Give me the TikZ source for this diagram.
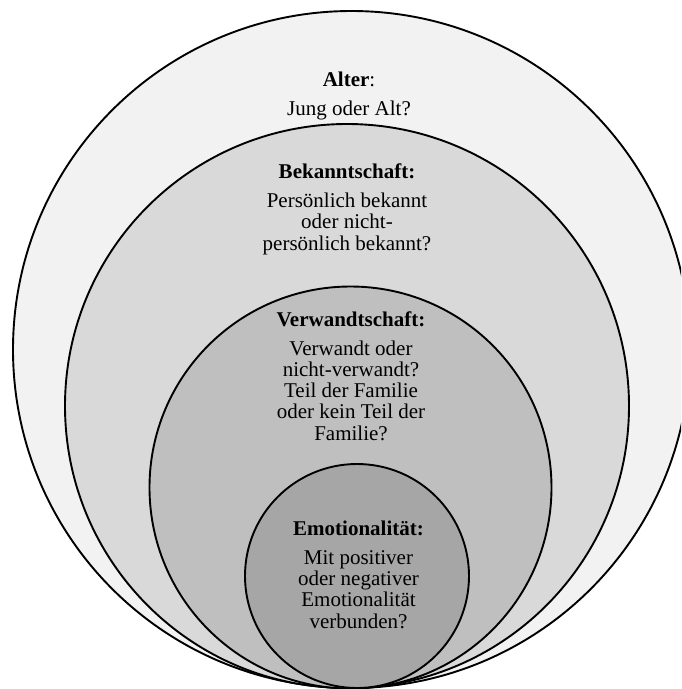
\documentclass[tikz,border=0pt]{standalone}
\usepackage{fontspec}
\setmainfont{Liberation Serif}
\begin{document}
\begin{tikzpicture}[x=1pt,y=-1pt,
  ring/.style={draw=black,line width=1.9pt},
  label/.style={align=center,inner sep=0pt,anchor=base,
    font=\fontsize{21}{21.2}\selectfont}]
\useasboundingbox (0,0) rectangle (681,689);
\clip (0,0) rectangle (681,689);
% nested rings, all meeting near the bottom
\fill[white] (0,0) rectangle (681,689);
\draw[ring,fill={rgb,255:red,242;green,242;blue,242}] (351.5,349.5) circle[radius=338.5pt];
\draw[ring,fill={rgb,255:red,217;green,217;blue,217}] (347,406) circle[radius=282pt];
\draw[ring,fill={rgb,255:red,191;green,191;blue,191}] (350.5,487.5) circle[radius=201pt];
\draw[ring,fill={rgb,255:red,166;green,166;blue,166}] (357,576) circle[radius=112pt];
% labels, placed at the baseline of their last line
\node[label] (alter) at (349,115) {\textbf{Alter}:\\[7pt]Jung oder Alt?};
\node[label] (bekannt) at (347,250) {\textbf{Bekanntschaft:}\\[8pt]Persönlich bekannt\\oder nicht-\\persönlich bekannt?};
\node[label] (verwandt) at (351,440) {\textbf{Verwandtschaft:}\\[8pt]Verwandt oder\\nicht-verwandt?\\Teil der Familie\\oder kein Teil der\\Familie?};
\node[label] (emo) at (358.5,628) {\textbf{Emotionalität:}\\[8pt]Mit positiver\\oder negativer\\Emotionalität\\verbunden?};
\end{tikzpicture}
\end{document}
